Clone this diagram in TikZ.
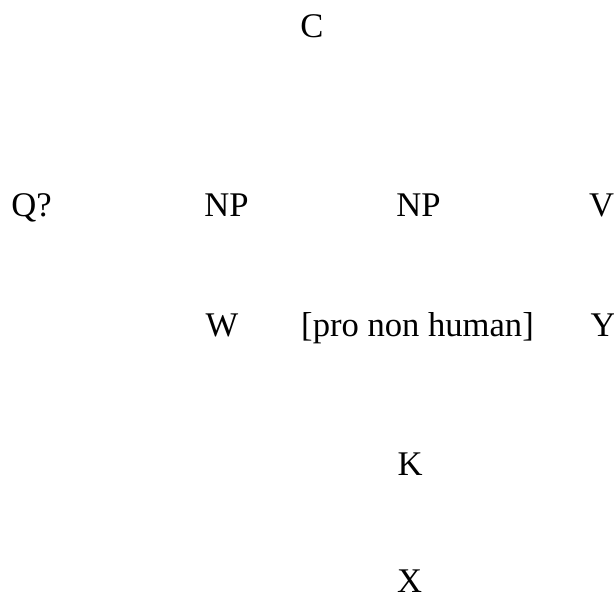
\documentclass[tikz,border=0pt]{standalone}
\usepackage{fontspec}
\setmainfont{Liberation Serif}

\begin{document}
\begin{tikzpicture}[
    x=0.5pt,
    y=-0.5pt,
    category/.style={
        anchor=base,
        inner sep=0pt,
        font=\fontsize{17.3}{20}\selectfont
    },
    ]
    \useasboundingbox (0,0) rectangle (614,597);
    \node [category] (c) at (312,38) {C};
    \node [category] (q) at (31.5,217) {Q?};
    \node [category] (np subject) at (226.5,217) {NP};
    \node [category] (np object) at (418.5,217) {NP};
    \node [category] (v) at (601.5,217) {V};
    \node [category] (w) at (222,337) {W};
    \node [category] (pro) at (417.5,337) {[pro non human]};
    \node [category] (y) at (603,337) {Y};
    \node [category] (k) at (410,475) {K};
    \node [category] (x) at (409.5,592) {X};
\end{tikzpicture}
\end{document}
